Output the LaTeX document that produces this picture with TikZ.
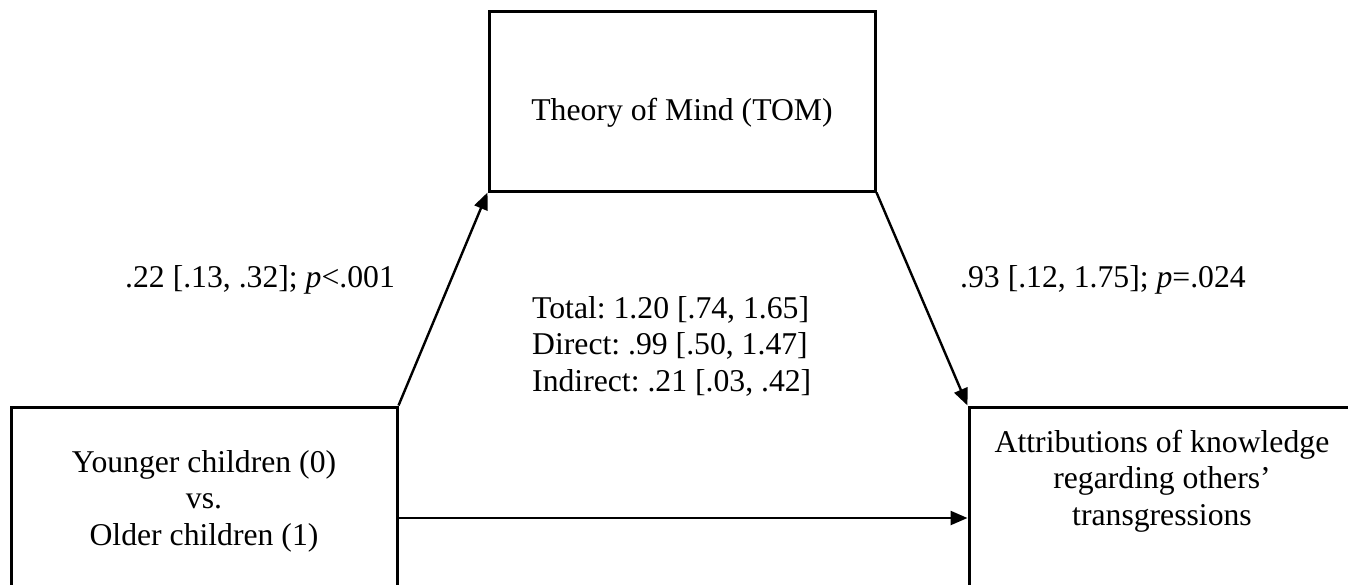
\documentclass[tikz,border=0pt]{standalone}
\usepackage{fontspec}
\setmainfont{Liberation Serif}
\usetikzlibrary{arrows.meta}
\frenchspacing
\tikzset{
  box/.style={draw=black, line width=3pt, minimum width=386pt, minimum height=180pt, inner sep=0pt},
  txt/.style={inner sep=0pt, font=\fontsize{31.7}{36.5}\selectfont},
  arr/.style={line width=2.4pt, -{Triangle[length=17pt,width=14pt]}}
}
\begin{document}
\begin{tikzpicture}[x=1pt,y=-1pt]
\useasboundingbox (0,0) rectangle (1348,584);
\clip (0,0) rectangle (1348,584);
\node[box] (tom) at (682,101) {};
\node[box] (pred) at (204,497) {};
\node[box] (out) at (1162,497) {};
\node[txt, anchor=base] (tomtxt) at (682,120) {Theory of Mind (TOM)};
\node[txt, anchor=base] (predtxt) at (204,472) {\begin{tabular}[t]{@{}c@{}}Younger children (0)\\vs.\\Older children (1)\end{tabular}};
\node[txt, anchor=base] (outtxt) at (1162,452) {\begin{tabular}[t]{@{}c@{}}Attributions of knowledge\\regarding others’\\transgressions\end{tabular}};
\node[txt, anchor=base west] (lab1) at (125,287) {.22 [.13, .32]; \textit{p}<.001};
\node[txt, anchor=base west] (lab2) at (960,287) {.93 [.12, 1.75]; \textit{p}=.024};
\node[txt, anchor=base west] (eff) at (532,318) {\begin{tabular}[t]{@{}l@{}}Total: 1.20 [.74, 1.65]\\Direct: .99 [.50, 1.47]\\Indirect: .21 [.03, .42]\end{tabular}};
\draw[arr] (pred.north east) -- (tom.south west);
\draw[arr] (tom.south east) -- (out.north west);
\draw[arr] ([yshift=-21pt]pred.east) -- ([yshift=-21pt]out.west);
\end{tikzpicture}
\end{document}
